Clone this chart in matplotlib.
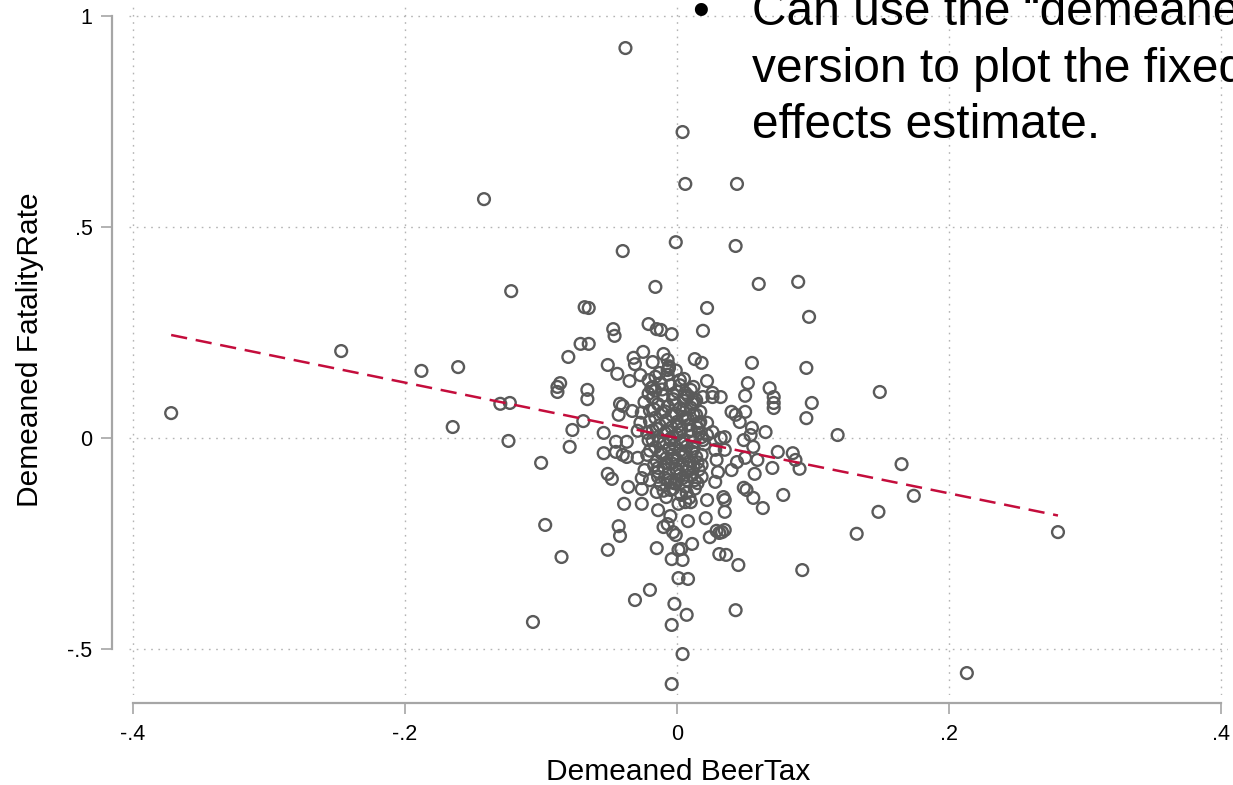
import matplotlib
matplotlib.use("Agg")
import matplotlib.pyplot as plt

plt.rcParams['font.family'] = ['Liberation Sans', 'DejaVu Sans']

# demeaned beer tax / demeaned fatality rate
beer_tax = [
    -0.038, 0.004, 0.006, 0.044, -0.142, -0.001, 0.043, -0.040, 0.089, 0.060,
    -0.122, -0.016, 0.022, -0.068, -0.065, 0.097, -0.021, -0.015, -0.012, -0.004,
    -0.047, -0.046, 0.019, -0.071, -0.065, -0.247, -0.080, -0.051, -0.044, -0.035,
    -0.188, -0.161, 0.095, 0.055, 0.013, 0.018, -0.025, -0.010, -0.007, -0.006,
    -0.032, -0.031, 0.002, 0.022, 0.052, 0.068, 0.071, 0.071, 0.071, 0.099,
    0.095, 0.118, -0.086, -0.088, -0.088, -0.066, -0.066, -0.130, -0.123, -0.165,
    -0.124, -0.077, -0.069, -0.079, -0.054, -0.100, -0.042, -0.040, -0.043, -0.033,
    -0.029, -0.045, -0.037, -0.054, -0.045, -0.040, -0.037, -0.029, -0.024, -0.026,
    -0.051, -0.048, -0.036, -0.026, -0.026, -0.039, -0.014, -0.015, -0.005, -0.007,
    -0.010, -0.003, -0.001, 0.008, 0.021, 0.035, 0.045, 0.024, 0.029, 0.031,
    0.033, 0.035, 0.011, 0.003, 0.004, -0.004, -0.015, -0.043, -0.042, -0.051,
    -0.085, -0.097, 0.031, 0.036, 0.092, 0.078, 0.063, 0.056, 0.049, 0.051,
    0.057, 0.070, 0.090, 0.085, 0.087, 0.074, 0.059, 0.050, 0.044, 0.040,
    0.065, 0.056, 0.054, 0.055, 0.049, 0.050, 0.040, 0.043, 0.050, 0.046,
    0.035, 0.032, 0.026, 0.029, 0.030, 0.028, 0.034, 0.001, 0.001, 0.008,
    -0.020, -0.031, -0.002, 0.007, -0.004, 0.043, -0.106, 0.004, 0.213, -0.004,
    0.032, 0.026, 0.019, 0.012, 0.010, 0.006, 0.013, 0.017, 0.012, 0.017,
    0.022, 0.022, 0.010, 0.015, 0.019, 0.035, 0.028, 0.018, 0.018, 0.015,
    0.007, 0.009, 0.006, 0.010, -0.005, -0.002, -0.007, 0.149, -0.372, 0.165,
    0.174, 0.148, 0.280, 0.132, 0.022, 0.035, 0.026, -0.018, -0.027, -0.021,
    -0.016, -0.013, -0.007, -0.018, -0.001, 0.004, 0.006, -0.027, -0.021, -0.022,
    -0.014, 0.001,
    # dense middle
    -0.012, -0.005, 0.000, -0.010, -0.018, -0.003, 0.005, -0.014, -0.007, 0.002,
    0.010, -0.020, -0.011, -0.004, 0.004, -0.016, -0.008, 0.000, 0.008, -0.013,
    -0.004, 0.003, -0.018, -0.009, 0.000, 0.010, -0.014, -0.005, 0.004, 0.012,
    -0.010, -0.002, 0.007, -0.016, -0.006, 0.002, 0.011, -0.012, -0.003, 0.005,
    0.014, -0.008, 0.000, 0.009, -0.015, -0.004, 0.004, 0.012, -0.010, -0.001,
    0.007, -0.014, -0.006, 0.002, 0.011, -0.009, 0.000, 0.006, -0.012, -0.003,
    0.003, -0.008, 0.013, -0.018, -0.020, 0.016, 0.018, 0.016, -0.022, -0.024,
    0.008, -0.016, 0.014, -0.026, -0.007, 0.005, -0.020, 0.020, -0.001,
    -0.019, -0.011, -0.003, 0.006, 0.014, -0.017, -0.009, -0.001, 0.008, 0.016,
    -0.015, -0.007, 0.001, 0.010, 0.018, -0.013, -0.005, 0.003, 0.012, -0.020,
    -0.011, -0.002, 0.006, 0.015, -0.017, -0.008, 0.000, 0.009, -0.014, -0.005,
    0.004, 0.013, -0.010, -0.001, 0.007, -0.006, 0.002, -0.003, 0.011, -0.021,
]
fatality_rate = [
    0.924, 0.725, 0.602, 0.602, 0.566, 0.464, 0.455, 0.443, 0.370, 0.365,
    0.348, 0.358, 0.308, 0.310, 0.308, 0.287, 0.270, 0.258, 0.256, 0.246,
    0.258, 0.242, 0.254, 0.223, 0.223, 0.206, 0.192, 0.173, 0.152, 0.135,
    0.159, 0.168, 0.166, 0.178, 0.187, 0.178, 0.204, 0.199, 0.185, 0.166,
    0.190, 0.175, 0.137, 0.135, 0.130, 0.118, 0.097, 0.083, 0.071, 0.083,
    0.047, 0.007, 0.130, 0.121, 0.109, 0.114, 0.092, 0.081, 0.083, 0.026,
    -0.007, 0.019, 0.040, -0.021, 0.012, -0.059, 0.081, 0.076, 0.055, 0.064,
    0.017, -0.009, -0.009, -0.036, -0.033, -0.040, -0.045, -0.047, -0.076, -0.095,
    -0.085, -0.097, -0.116, -0.121, -0.156, -0.156, -0.171, -0.128, -0.185, -0.204,
    -0.211, -0.223, -0.230, -0.197, -0.190, -0.175, -0.301, -0.235, -0.220, -0.225,
    -0.223, -0.218, -0.251, -0.263, -0.289, -0.287, -0.261, -0.209, -0.232, -0.265,
    -0.282, -0.206, -0.275, -0.277, -0.313, -0.135, -0.166, -0.142, -0.118, -0.123,
    -0.085, -0.071, -0.073, -0.036, -0.052, -0.033, -0.052, -0.047, -0.057, -0.076,
    0.014, -0.021, 0.007, 0.024, -0.005, 0.100, 0.062, 0.055, 0.062, 0.038,
    0.002, 0.000, 0.014, -0.052, -0.081, -0.104, -0.140, -0.156, -0.332, -0.334,
    -0.360, -0.384, -0.393, -0.419, -0.443, -0.408, -0.436, -0.512, -0.557, -0.583,
    0.097, 0.097, 0.097, 0.121, 0.114, 0.107, 0.085, 0.062, 0.055, 0.038,
    0.036, 0.007, 0.019, 0.024, -0.005, -0.028, -0.028, -0.064, -0.092, -0.107,
    -0.100, -0.142, -0.152, -0.152, -0.123, -0.107, -0.100, 0.109, 0.059, -0.062,
    -0.137, -0.175, -0.223, -0.227, -0.147, -0.147, 0.107, 0.180, 0.149, 0.137,
    0.145, 0.154, 0.161, 0.121, 0.078, 0.066, 0.047, 0.036, -0.005, 0.012,
    -0.071, -0.265,
    # dense middle
    0.130, 0.125, 0.110, 0.100, 0.095, 0.092, 0.088, 0.080, 0.075, 0.070,
    0.072, 0.065, 0.060, 0.055, 0.050, 0.048, 0.042, 0.038, 0.030, 0.030,
    0.025, 0.020, 0.018, 0.012, 0.008, 0.005, 0.002, -0.002, -0.005, -0.010,
    -0.012, -0.016, -0.020, -0.022, -0.026, -0.030, -0.032, -0.035, -0.040, -0.043,
    -0.045, -0.048, -0.052, -0.055, -0.055, -0.060, -0.064, -0.068, -0.068, -0.072,
    -0.078, -0.080, -0.084, -0.088, -0.088, -0.095, -0.100, -0.115, -0.110, -0.120,
    -0.135, -0.140, -0.120, -0.005, 0.040, 0.012, -0.040, -0.075, -0.040, 0.085,
    0.100, 0.112, 0.055, 0.060, 0.150, 0.140, -0.100, -0.015, 0.160,
    0.118, 0.115, 0.104, 0.096, 0.090, 0.068, 0.063, 0.058, 0.045, 0.035,
    0.022, 0.015, 0.028, 0.018, 0.002, -0.008, -0.006, -0.012, -0.025, -0.030,
    -0.038, -0.047, -0.035, -0.058, -0.065, -0.059, -0.080, -0.070, -0.092, -0.105,
    -0.095, -0.100, -0.125, -0.108, -0.130, 0.170, 0.125, 0.003, 0.082, 0.105,
]

# fixed effects fit
fit_slope = -0.656
fit_intercept = 0.0

xticks = [-0.4, -0.2, 0, 0.2, 0.4]
xtick_labels = ['-.4', '-.2', '0', '.2', '.4']
yticks = [-0.5, 0, 0.5, 1]
ytick_labels = ['-.5', '0', '.5', '1']

fig = plt.figure(figsize=(12.33, 7.85), dpi=100)
ax = fig.add_axes([129/1233, 90/785, 1099/1233, 690/785])
ax.set_xlim(-0.403, 0.405)
ax.set_ylim(-0.609, 1.026)

ax.grid(True, color='#b4b4b4', linewidth=1.0, linestyle=(0, (1.2, 4)))
ax.set_axisbelow(True)

ax.scatter(beer_tax, fatality_rate, s=72, facecolors='none',
           edgecolors='#5a5a5a', linewidths=1.7, zorder=3)

x0, x1 = min(beer_tax), max(beer_tax)
ax.plot([x0, x1], [fit_intercept + fit_slope*x0, fit_intercept + fit_slope*x1],
        color='#c40d3c', linewidth=1.8, dashes=(6.5, 3.5), zorder=4)

for s in ['top', 'right']:
    ax.spines[s].set_visible(False)
# outward is in points (1 px = 0.72 pt here)
ax.spines['left'].set_position(('outward', 12.2))
ax.spines['left'].set_bounds(-0.5, 1)
ax.spines['bottom'].set_position(('outward', 5.8))
ax.spines['bottom'].set_bounds(-0.4, 0.4)
for s in ['left', 'bottom']:
    ax.spines[s].set_color('#a6a6a6')
    ax.spines[s].set_linewidth(1.6)

ax.set_xticks(xticks)
ax.set_xticklabels(xtick_labels)
ax.set_yticks(yticks)
ax.set_yticklabels(ytick_labels)
ax.tick_params(length=8, width=1.2, color='#a6a6a6', labelsize=15.5)
ax.tick_params(axis='y', pad=6)
ax.tick_params(axis='x', pad=7)

ax.set_xlabel('Demeaned BeerTax', fontsize=21.5)
ax.set_ylabel('Demeaned FatalityRate', fontsize=21.5)
ax.xaxis.set_label_coords(0.5, -0.092)
ax.yaxis.set_label_coords(-0.077, 0.5)

# slide text on top of the chart
fs = 34.5
fig.text(692/1233, 1 - 25/785, '\u2022', fontsize=fs, va='baseline')
fig.text(752/1233, 1 - 25/785, 'Can use the \u201cdemeaned\u201d', fontsize=fs, va='baseline')
fig.text(752/1233, 1 - 82/785, 'version to plot the fixed', fontsize=fs, va='baseline')
fig.text(752/1233, 1 - 138/785, 'effects estimate.', fontsize=fs, va='baseline')

fig.savefig('out.png', dpi=100)
